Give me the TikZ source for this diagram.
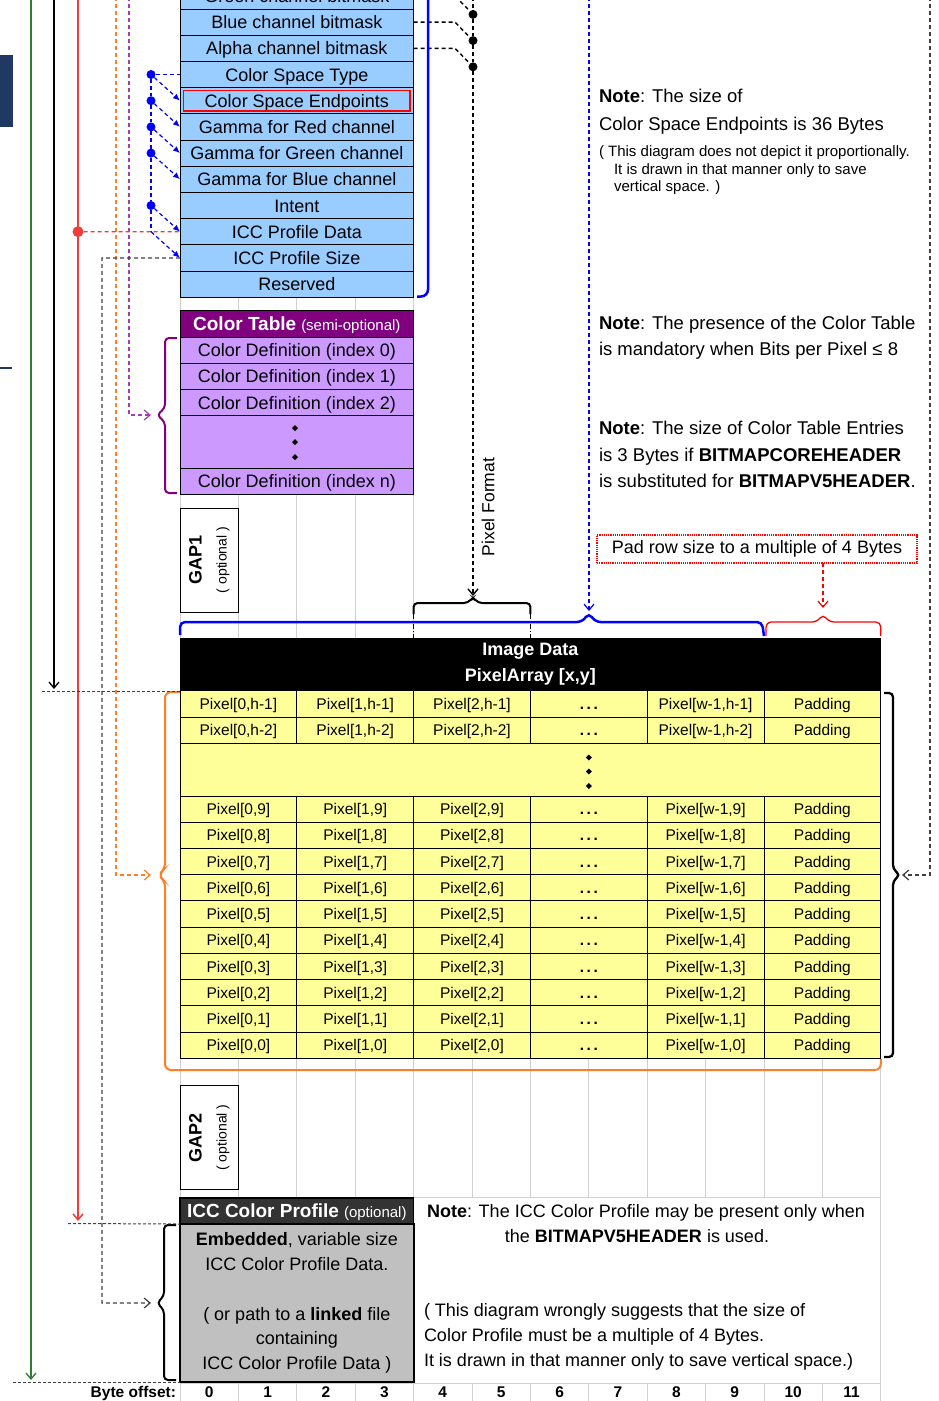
\documentclass[tikz,border=0pt]{standalone}
\usepackage{fontspec}
\setmainfont{Liberation Sans}
\usetikzlibrary{arrows.meta,shapes.geometric}
\definecolor{cellblue}{HTML}{99CCFF}
\definecolor{ctpurple}{HTML}{800080}
\definecolor{lav}{HTML}{CC99FF}
\definecolor{pxyellow}{HTML}{FFFF99}
\definecolor{iccgray}{HTML}{C0C0C0}
\definecolor{iccdark}{HTML}{333333}
\definecolor{gridgray}{HTML}{D0D0D0}
\definecolor{lgreen}{HTML}{2E7D32}
\definecolor{lred}{HTML}{F03C3C}
\definecolor{lorange}{HTML}{FF7F27}
\definecolor{lpurple}{HTML}{A040B0}
\definecolor{navyb}{HTML}{1F3864}
\definecolor{dgray}{HTML}{404040}
\begin{document}
\begin{tikzpicture}[x=1pt,y=-1pt,
  every node/.style={inner sep=0pt, outer sep=0pt},
  hcell/.style={draw=black, line width=1pt, minimum width=233.6pt, minimum height=26.2pt,
    font=\fontsize{18}{21}\selectfont, text height=14pt, text depth=1pt},
  pcell/.style={draw=black, line width=1pt, fill=pxyellow, minimum width=116.8pt, minimum height=26.25pt,
    font=\fontsize{15.5}{18}\selectfont, text height=12pt, text depth=1pt},
  note/.style={anchor=base west, font=\fontsize{18.5}{22}\selectfont},
  snote/.style={anchor=base west, font=\fontsize{15}{18}\selectfont},
  bdot/.style={circle, fill=blue, minimum size=9pt},
  kdot/.style={circle, fill=black, minimum size=9pt},
  dmd/.style={diamond, fill=black, minimum size=6pt},
  bdash/.style={blue, line width=1.2pt, dash pattern=on 4pt off 3pt},
  kdash/.style={black, line width=1.4pt, dash pattern=on 4pt off 3pt},
  gdash/.style={dgray, line width=1.2pt, dash pattern=on 4pt off 3pt},
  fdash/.style={black!75, line width=1pt, dash pattern=on 3pt off 2pt},
  myarr/.style={-{Straight Barb[length=6pt,width=10pt]}},
  barr/.style={-{Latex[length=7pt,width=6pt]}},
  bracefig/.style={line width=2pt, rounded corners=4pt},
  gapbox/.style={draw=black, line width=1pt, fill=white, rotate=90, minimum width=104pt, minimum height=58.4pt, align=center,
    font=\fontsize{18}{25}\selectfont}
]
\useasboundingbox (0,0) rectangle (938,1401);
\clip (0,0) rectangle (938,1401);

% background grid
\foreach \k in {0,...,4} \draw[gridgray, line width=1pt] ({180+58.4*\k},0) -- ({180+58.4*\k},1401);
\foreach \k in {5,...,12} \draw[gridgray, line width=1pt] ({180+58.4*\k},638) -- ({180+58.4*\k},1401);
\draw[gridgray, line width=1pt] (180,1383) -- (880.8,1383);

% left decorations
\fill[navyb] (0,55) rectangle (13,127);
\draw[navyb, line width=1.5pt] (0,368) -- (12,368);

% header rows
\foreach \t [count=\i from 0] in {Green channel bitmask, Blue channel bitmask, Alpha channel bitmask, Color Space Type, Color Space Endpoints, Gamma for Red channel, Gamma for Green channel, Gamma for Blue channel, Intent, ICC Profile Data, ICC Profile Size, Reserved}
  \node[hcell, fill=cellblue] (r\i) at (296.8, {-4.1+26.2*\i}) {\t};
\draw[red, line width=1.2pt] (183.5,90.5) rectangle (410,111);

% blue dots and arrows on the left of the header
\foreach \i in {3,4,5,6,8} \node[bdot] (d\i) at (151, {-4.1+26.2*\i}) {};
\coordinate (bv) at (151,231.7);
\draw[bdash] (d3) -- (r3.west);
\draw[bdash] (d3) -- (d4);
\draw[bdash] (d4) -- (d5);
\draw[bdash] (d5) -- (d6);
\draw[bdash] (d6) -- (d8);
\draw[bdash] (d8) -- (bv);
\draw[bdash, barr] (d3) -- (r4.west);
\draw[bdash, barr] (d4) -- (r5.west);
\draw[bdash, barr] (d5) -- (r6.west);
\draw[bdash, barr] (d6) -- (r7.west);
\draw[bdash, barr] (d8) -- (r9.west);
\draw[bdash, barr] (bv) -- (r10.west);

% black dots on the right of the header (pixel format)
\foreach \i in {0,1,2} {
  \node[kdot] (k\i) at (473, {14.4+26.2*\i}) {};
  \coordinate (ke\i) at (455, {-4.1+26.2*\i});
  \draw[kdash] (r\i.east) -- (ke\i) -- (k\i);
}
\coordinate (pftop) at (473,-10);
\coordinate (pftip) at (473,596);
\draw[kdash] (pftop) -- (k0);
\draw[kdash] (k0) -- (k1);
\draw[kdash] (k1) -- (k2);
\draw[kdash, myarr] (k2) -- (pftip);
\node[rotate=90, font=\fontsize{17.5}{20}\selectfont] (pf) at (488,507) {Pixel Format};

% blue solid bracket
\coordinate (bbtop) at (428,-10);
\coordinate (bbend) at (417,296.5);
\draw[blue, line width=2.5pt, rounded corners=7pt] (bbtop) -- (428,296.5) -- (bbend);

% blue dashed long arrow
\coordinate (bdtop) at (589,-10);
\coordinate (bdtip) at (589,611);
\draw[bdash, myarr] (bdtop) -- (bdtip);

% gray dashed right arrow
\coordinate (gtop) at (930,-10);
\coordinate (gcorner) at (930,875);
\coordinate (gtip) at (902,875);
\draw[gdash, myarr] (gtop) -- (gcorner) -- (gtip);

% notes
\node[note] (n1a) at (599,102.5) {\textbf{Note}: The size of};
\node[note] (n1b) at (599,130.5) {Color Space Endpoints is 36 Bytes};
\node[snote] (n1c) at (599,156.5) {( This diagram does not depict it proportionally.};
\node[snote] (n1d) at (614,174) {It is drawn in that manner only to save};
\node[snote] (n1e) at (614,191.5) {vertical space. )};
\node[note] (n2a) at (599,329.5) {\textbf{Note}: The presence of the Color Table};
\node[note] (n2b) at (599,355.5) {is mandatory when Bits per Pixel ≤ 8};
\node[note] (n3a) at (599,434.5) {\textbf{Note}: The size of Color Table Entries};
\node[note] (n3b) at (599,461) {is 3 Bytes if \textbf{BITMAPCOREHEADER}};
\node[note] (n3c) at (599,487.5) {is substituted for \textbf{BITMAPV5HEADER}.};

% pad box
\node[draw=red, line width=1.2pt, densely dotted, minimum width=320pt, minimum height=28pt,
  font=\fontsize{18}{21}\selectfont] (pad) at (757,549) {Pad row size to a multiple of 4 Bytes};
\coordinate (padtip) at (823,608);
\draw[red, line width=1.2pt, dash pattern=on 4pt off 3pt, myarr] (pad.south -| padtip) -- (padtip);

% color table
\node[hcell, fill=ctpurple, text=white] (ct) at (296.8,324)
  {{\bfseries\fontsize{19}{21}\selectfont Color Table} {\fontsize{15}{18}\selectfont (semi-optional)}};
\node[hcell, fill=lav] (c0) at (296.8,350.2) {Color Definition (index 0)};
\node[hcell, fill=lav] (c1) at (296.8,376.4) {Color Definition (index 1)};
\node[hcell, fill=lav] (c2) at (296.8,402.6) {Color Definition (index 2)};
\node[hcell, fill=lav, minimum height=52.4pt] (cd) at (296.8,441.9) {};
\node[hcell, fill=lav] (cn) at (296.8,481.2) {Color Definition (index n)};
\node[dmd] (cd1) at (295,428) {};
\node[dmd] (cd2) at (295,442) {};
\node[dmd] (cd3) at (295,457) {};
\draw[ctpurple, bracefig] (177,338) -- (165,338) -- (165,408) -- (157,415) -- (165,422) -- (165,493) -- (177,493);
\coordinate (ptop) at (129,-10);
\coordinate (pcorner) at (129,415);
\coordinate (ptip) at (151,415);
\draw[lpurple, line width=1.2pt, dash pattern=on 4pt off 3pt, myarr] (ptop) -- (pcorner) -- (ptip);

% GAP1
\node[gapbox] (gap1) at (209.2,560) {{\bfseries GAP1}\\{\fontsize{14}{16}\selectfont ( optional )}};

% braces above image data
\draw[black, bracefig] (413.6,614) -- (413.6,603) -- (468,603) -- (473,597) -- (478,603) -- (530.4,603) -- (530.4,614);
\draw[black, line width=0.8pt, dash pattern=on 5pt off 2pt on 1pt off 2pt] (413.6,614) -- (413.6,638);
\draw[black, line width=0.8pt, dash pattern=on 5pt off 2pt on 1pt off 2pt] (530.4,614) -- (530.4,638);
\draw[blue, line width=2.5pt, rounded corners=5pt] (180,635) -- (180,622) -- (582,622) -- (588.8,613) -- (595.6,622) -- (762,622) -- (764,636);
\draw[red, line width=1.3pt, rounded corners=5pt] (766,636) -- (766,622) -- (817,622) -- (823,614) -- (829,622) -- (880.8,622) -- (880.8,636);

% image data header
\node[fill=black, minimum width=700.8pt, minimum height=53pt, text=white, align=center,
  font=\bfseries\fontsize{18}{26}\selectfont] (img) at (530.4,664.5) {Image Data\\PixelArray [x,y]};

% pixel array
\foreach \r [count=\k] in {h-1,h-2,9,8,7,6,5,4,3,2,1,0} {
  \pgfmathsetmacro\yy{\k<3 ? 704.1+26.25*(\k-1) : 809.1+26.25*(\k-3)}
  \node[pcell] (pa\k) at (238.4,\yy) {Pixel[0,\r]};
  \node[pcell] (pb\k) at (355.2,\yy) {Pixel[1,\r]};
  \node[pcell] (pc\k) at (472,\yy) {Pixel[2,\r]};
  \node[pcell] (pd\k) at (588.8,\yy) {\bfseries .\,.\,.};
  \node[pcell] (pe\k) at (705.6,\yy) {Pixel[w-1,\r]};
  \node[pcell] (pf\k) at (822.4,\yy) {Padding};
}
\node[pcell, minimum width=700.8pt, minimum height=52.5pt] (pdots) at (530.4,769.75) {};
\node[dmd] (pd1) at (588.8,757.5) {};
\node[dmd] (pd2) at (588.8,771.5) {};
\node[dmd] (pd3) at (588.8,786) {};

% orange bracket
\draw[lorange, bracefig, rounded corners=6pt] (180,692) -- (165,692) -- (165,869) -- (158,875) -- (165,881) -- (165,1070) -- (880.8,1070) -- (880.8,1059);
\coordinate (otop) at (116,-10);
\coordinate (ocorner) at (116,875);
\coordinate (otip) at (151,875);
\draw[lorange, line width=1.2pt, dash pattern=on 4pt off 3pt, myarr] (otop) -- (ocorner) -- (otip);

% right black brace
\draw[black, line width=2.3pt, rounded corners=4pt] (884,693) -- (893,693) -- (893,869) -- (900,875) -- (893,881) -- (893,1057) -- (884,1057);

% GAP2
\node[gapbox] (gap2) at (209.2,1137.5) {{\bfseries GAP2}\\{\fontsize{14}{16}\selectfont ( optional )}};

% ICC note cell (white, no grid inside)
\node[draw=gridgray, line width=1pt, fill=white, minimum width=467.2pt, minimum height=186pt] (icn) at (647.2,1290) {};
\node[font=\fontsize{18}{21}\selectfont, anchor=base] (icn1) at (646,1217.5) {\textbf{Note}: The ICC Color Profile may be present only when};
\node[font=\fontsize{18}{21}\selectfont, anchor=base] (icn2) at (637,1242.5) {the \textbf{BITMAPV5HEADER} is used.};
\node[font=\fontsize{18}{21}\selectfont, anchor=base west] (icn3) at (424,1316.5) {( This diagram wrongly suggests that the size of};
\node[font=\fontsize{18}{21}\selectfont, anchor=base west] (icn4) at (424,1341.5) {Color Profile must be a multiple of 4 Bytes.};
\node[font=\fontsize{18}{21}\selectfont, anchor=base west] (icn5) at (424,1366.5) {It is drawn in that manner only to save vertical space.)};

% ICC color profile
\node[hcell, fill=iccdark, text=white, line width=1.5pt] (ih) at (296.8,1211)
  {{\bfseries\fontsize{19}{21}\selectfont ICC Color Profile} {\fontsize{15}{18}\selectfont (optional)}};
\node[draw=black, line width=1.8pt, fill=iccgray, minimum width=233.6pt, minimum height=158pt, align=center,
  font=\fontsize{18}{24.8}\selectfont] (ib) at (296.8,1303)
  {{\bfseries Embedded}, variable size\\ICC Color Profile Data.\\[24.8pt]( or path to a {\bfseries linked} file\\containing\\ICC Color Profile Data )};
\draw[black, bracefig] (176,1225) -- (164,1225) -- (164,1296) -- (157,1303) -- (164,1310) -- (164,1380) -- (176,1380);

% left vertical connectors
\coordinate (gtop2) at (31,-10);
\coordinate (gend) at (31,1380);
\draw[lgreen, line width=1.3pt, myarr] (gtop2) -- (gend);
\coordinate (ktop) at (54,-10);
\coordinate (kend) at (54,689);
\draw[black, line width=1.3pt, myarr] (ktop) -- (kend);
\coordinate (rtop) at (78,-10);
\coordinate (rend) at (78,1221);
\draw[lred, line width=1.5pt, myarr] (rtop) -- (rend);
\node[circle, fill=lred, minimum size=11pt] (rdot) at (78,231.7) {};
\draw[lred, line width=1.2pt, dash pattern=on 4pt off 3pt] (rdot) -- (r9.west);

% ICC profile size link
\coordinate (ls1) at (102,257.9);
\coordinate (ls2) at (102,1303);
\coordinate (ls3) at (151,1303);
\draw[gdash, myarr] (r10.west) -- (ls1) -- (ls2) -- (ls3);

% fine dashed level lines
\coordinate (lv1) at (42,691);
\draw[fdash] (lv1) -- (img.south west);
\coordinate (lv2) at (68,1223.5);
\draw[fdash] (lv2) -- (ib.north west);
\coordinate (lv3) at (13,1382);
\draw[fdash] (lv3) -- (ib.south west);

% byte offset row
\node[anchor=base east, font=\bfseries\fontsize{15.5}{18}\selectfont] (bo) at (176,1397.5) {Byte offset:};
\foreach \k in {0,...,11}
  \node[anchor=base, font=\bfseries\fontsize{15.5}{18}\selectfont] (b\k) at ({209.2+58.4*\k},1397.5) {\k};
\end{tikzpicture}
\end{document}
